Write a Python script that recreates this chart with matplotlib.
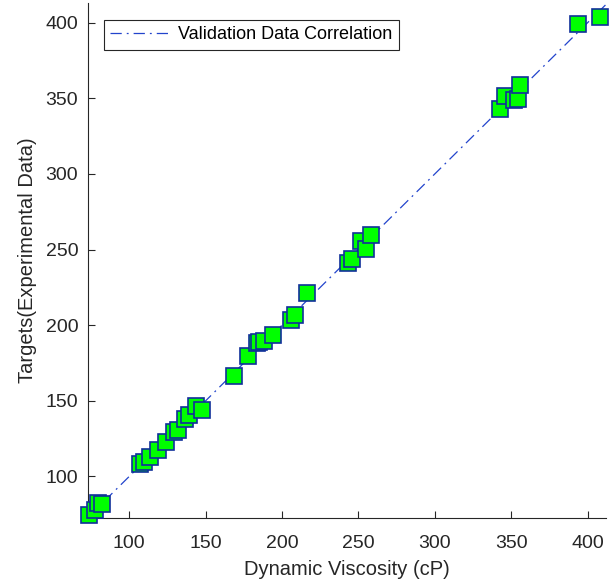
import matplotlib
matplotlib.use("Agg")
import matplotlib.pyplot as plt

plt.rcParams['font.family'] = ['Liberation Sans', 'DejaVu Sans']

# Predicted dynamic viscosity (cP) versus experimental targets
viscosity = [73.8, 77.7, 79.7, 82.1, 107.2, 109.4, 113.3, 118.5, 124.2, 129.5,
             131.6, 136.7, 138.8, 143.9, 147.6, 168.6, 177.5, 183.6, 184.7, 188.0,
             194.1, 205.9, 208.7, 216.4, 243.2, 245.8, 251.9, 255.0, 258.5, 342.5,
             346.0, 351.9, 354.3, 355.4, 393.8, 407.8]
targets = [74.2, 78.0, 82.6, 81.8, 108.4, 109.7, 112.8, 117.2, 122.5, 129.1,
           130.4, 137.9, 140.8, 146.7, 144.1, 166.1, 179.8, 188.2, 188.6, 189.2,
           193.2, 203.6, 206.4, 221.2, 241.4, 243.7, 255.3, 250.3, 259.3, 342.8,
           351.2, 349.0, 349.4, 358.9, 399.2, 404.0]

x_limits = [73, 412]
y_limits = [72.5, 413]
x_ticks = [100, 150, 200, 250, 300, 350, 400]
y_ticks = [100, 150, 200, 250, 300, 350, 400]

fig = plt.figure(figsize=(6.14, 5.87), dpi=100)
ax = fig.add_axes([0.1433, 0.1175, 0.987 - 0.1433, 0.995 - 0.1175])

ax.plot(x_limits, x_limits, linestyle='-.', color='#2244cc', linewidth=0.9,
        dashes=(9, 4, 1.5, 4),
        label='Validation Data Correlation', zorder=2)
ax.plot(viscosity, targets, linestyle='none', marker='s', markersize=11,
        markerfacecolor='#00ff00', markeredgecolor='#10309a', markeredgewidth=1.2,
        zorder=3, clip_on=False)

ax.set_xlim(x_limits)
ax.set_ylim(y_limits)
ax.set_xticks(x_ticks)
ax.set_yticks(y_ticks)

for side in ('top', 'right'):
    ax.spines[side].set_visible(False)
for side in ('left', 'bottom'):
    ax.spines[side].set_color('#262626')
    ax.spines[side].set_linewidth(0.8)

ax.tick_params(direction='in', length=5, width=0.8, labelsize=14, colors='#262626')
ax.tick_params(axis='x', pad=12)
ax.tick_params(axis='y', pad=7)
ax.set_xlabel('Dynamic Viscosity (cP)', fontsize=14.5, color='#262626', labelpad=6)
ax.set_ylabel('Targets(Experimental Data)', fontsize=14.5, color='#262626', labelpad=6)

leg = ax.legend(loc='upper left', bbox_to_anchor=(0.03, 0.967), borderaxespad=0,
                fontsize=13, frameon=True, fancybox=False, framealpha=1,
                edgecolor='#262626', handlelength=3.4, borderpad=0.35,
                handletextpad=0.4)
leg.get_frame().set_linewidth(0.8)

fig.savefig('out.png', dpi=100)
